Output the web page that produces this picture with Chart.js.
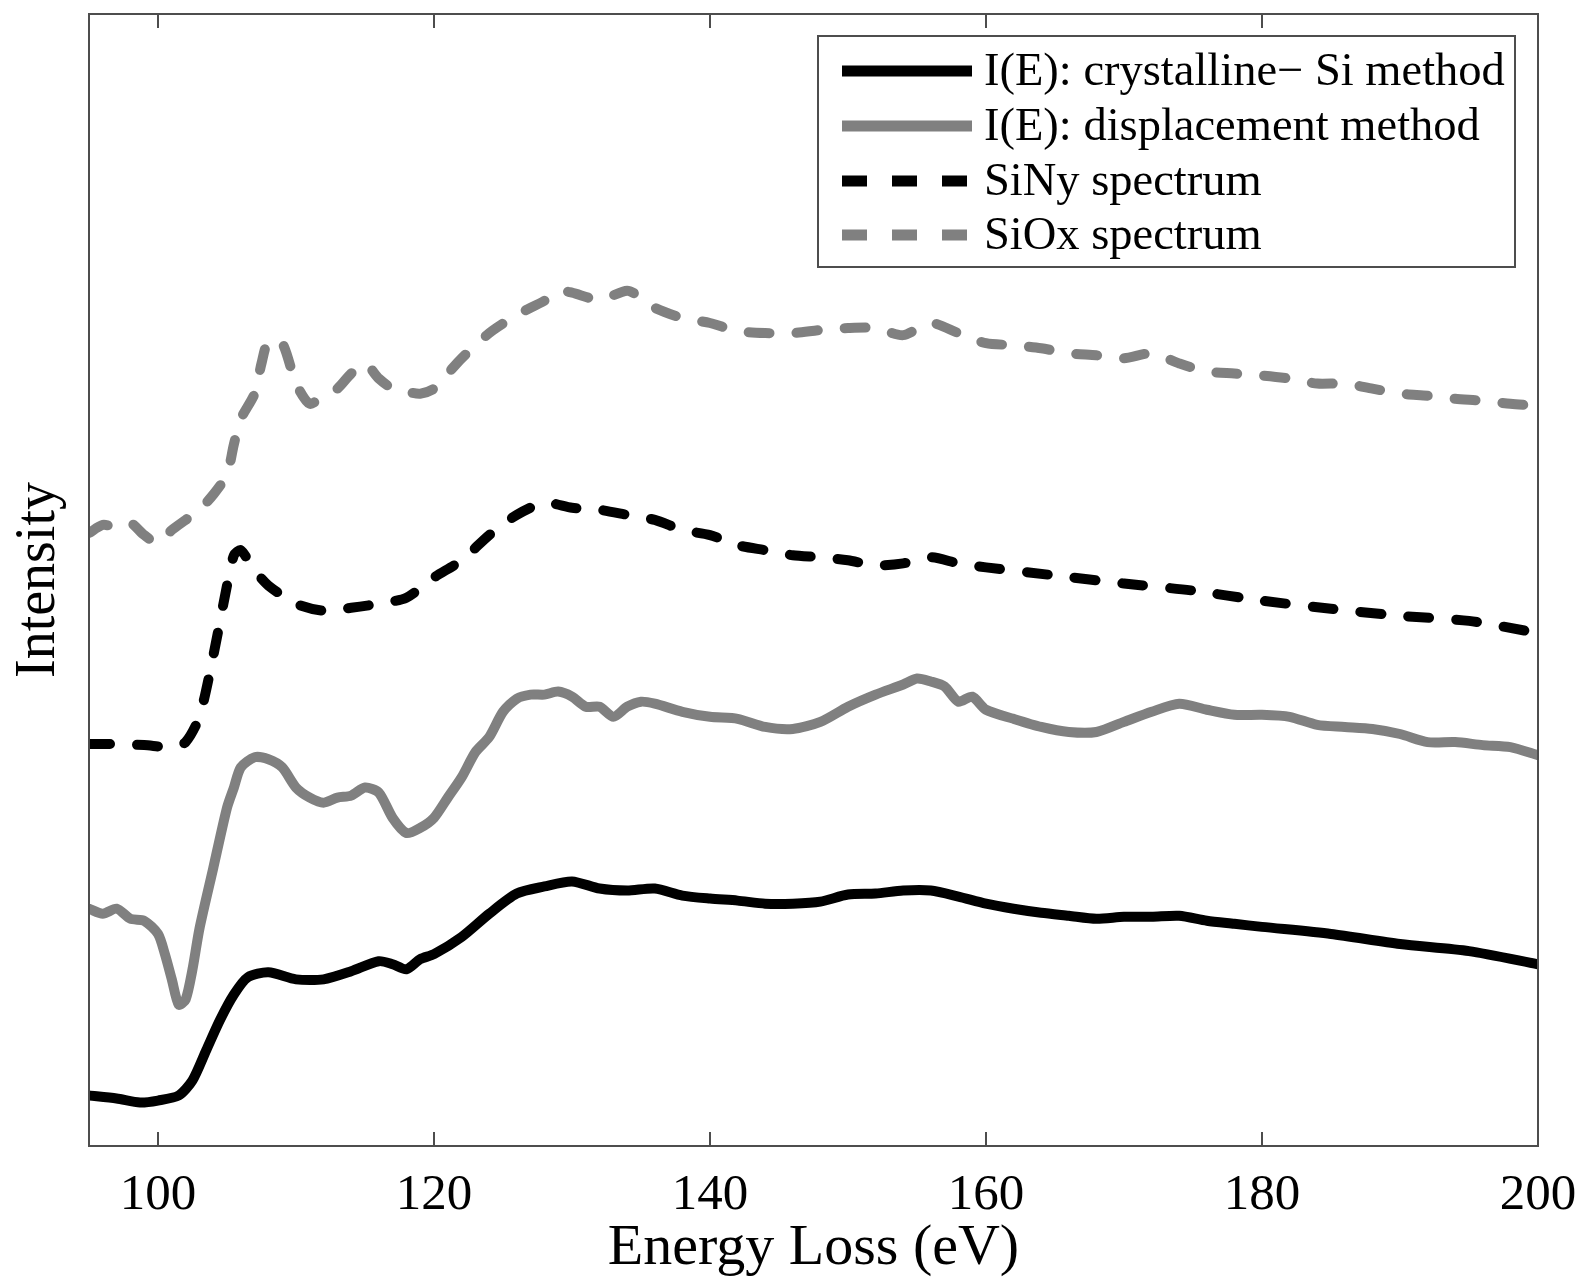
<!DOCTYPE html>
<html>
<head>
<meta charset="utf-8">
<script src="https://cdn.jsdelivr.net/npm/chart.js@4.4.1/dist/chart.umd.min.js"></script>
<style>
  html, body { margin: 0; padding: 0; background: #fff; }
  canvas { display: block; }
</style>
</head>
<body>
<canvas id="eels" width="1583" height="1281"></canvas>
<script>
// x axis ticks (eV)
const xTicks = [100, 120, 140, 160, 180, 200];

// I(E): crystalline-Si method
const cSiEnergy = [95, 97, 98.7, 100, 101.5, 102.5, 103.5, 104.5, 105.5, 106.5, 108, 110, 112, 114, 116, 117, 118, 119, 120, 122, 124, 126, 128, 130, 132, 134, 136, 138, 140, 142, 144, 146, 148, 150, 152, 154, 156, 158, 160, 162, 164, 166, 168, 170, 172, 174, 176, 178, 180, 185, 190, 195, 200];
const cSiIntensity = [50, 47, 43, 45, 50, 65, 95, 125, 150, 167, 172, 165, 165, 173, 183, 180, 175, 185, 190, 207, 230, 250, 257, 262, 255, 253, 255, 248, 245, 243, 240, 240, 242, 249, 250, 253, 253, 247, 240, 235, 231, 228, 225, 227, 227, 228, 223, 220, 217, 210, 200, 193, 180];

// I(E): displacement method
const dispEnergy = [95, 96, 97, 98, 99, 100, 100.5, 101, 101.5, 102, 102.5, 103, 104, 105, 105.5, 106, 107, 108, 109, 110, 111, 112, 113, 114, 115, 116, 117, 118, 119, 120, 121, 122, 123, 124, 125, 126, 127, 128, 129, 130, 131, 132, 133, 134, 135, 136, 138, 140, 142, 144, 146, 148, 150, 152, 154, 155, 156, 157, 158, 159, 160, 162, 164, 166, 168, 170, 172, 174, 176, 178, 180, 182, 184, 186, 188, 190, 192, 194, 196, 198, 200];
const dispIntensity = [235, 230, 235, 225, 223, 210, 190, 165, 140, 145, 175, 215, 275, 335, 355, 375, 385, 383, 375, 355, 345, 340, 345, 347, 355, 350, 325, 310, 315, 325, 345, 365, 390, 405, 430, 443, 447, 447, 450, 445, 435, 435, 425, 435, 440, 438, 430, 425, 423, 415, 413, 420, 435, 447, 457, 463, 460, 455, 440, 445, 432, 423, 415, 410, 410, 420, 430, 438, 432, 427, 427, 425, 417, 415, 413, 408, 400, 400, 397, 395, 387];

// SiNy spectrum
const siNyEnergy = [95, 97, 99, 101, 102, 103, 104, 105, 105.5, 106, 107, 108, 110, 112, 114, 116, 118, 120, 122, 124, 126, 128, 130, 132, 134, 136, 138, 140, 142, 144, 146, 148, 150, 152, 154, 156, 158, 160, 165, 170, 175, 180, 185, 190, 195, 200];
const siNyIntensity = [398, 398, 397, 395, 400, 425, 485, 555, 585, 590, 570, 555, 537, 530, 533, 537, 543, 563, 580, 605, 625, 637, 632, 630, 625, 620, 610, 605, 595, 590, 585, 583, 580, 575, 577, 583, 577, 573, 565, 557, 550, 540, 532, 525, 520, 508];

// SiOx spectrum
const siOxEnergy = [95, 96, 97, 98, 99, 100, 101, 102, 103, 104, 105, 105.5, 106, 107, 107.5, 108, 109, 110, 111, 112, 113, 114, 115, 116, 117, 118, 119, 120, 121, 122, 124, 126, 128, 129, 130, 132, 134, 135, 136, 138, 140, 142, 144, 146, 148, 150, 152, 154, 156, 158, 160, 162, 164, 166, 168, 170, 172, 174, 176, 178, 180, 182, 184, 186, 188, 190, 192, 194, 196, 198, 200];
const siOxIntensity = [607, 615, 613, 617, 605, 597, 610, 620, 630, 645, 665, 695, 720, 745, 775, 797, 795, 755, 735, 743, 750, 765, 775, 760, 750, 747, 745, 750, 765, 780, 805, 823, 837, 847, 845, 838, 847, 840, 830, 820, 815, 807, 805, 805, 808, 810, 810, 803, 815, 805, 795, 793, 790, 785, 783, 780, 785, 775, 767, 765, 763, 760, 755, 755, 750, 745, 743, 740, 738, 735, 733];

const seriesNames = ['I(E): crystalline\u2212 Si method', 'I(E): displacement method', 'SiNy spectrum', 'SiOx spectrum'];

const toPoints = (xs, ys) => xs.map((e, i) => ({ x: e, y: ys[i] }));

const serif = '"Liberation Serif", "DejaVu Serif", serif';
const GRAY = '#808080';

function lineSet(label, xs, ys, color, dashed) {
  return {
    label: label,
    data: toPoints(xs, ys),
    borderColor: color,
    borderWidth: 10,
    borderDash: dashed ? [21, 27] : [],
    borderCapStyle: 'round',
    borderJoinStyle: 'round',
    pointRadius: 0,
    tension: 0.25,
    fill: false,
    dashed: dashed
  };
}

// box, inward ticks and boxed legend, drawn on top of the plot
const frameAndLegend = {
  id: 'frameAndLegend',
  afterDraw(chart) {
    const { ctx, chartArea: a, scales: { x } } = chart;
    ctx.save();
    ctx.strokeStyle = '#4d4d4d';
    ctx.lineWidth = 2;
    ctx.setLineDash([]);
    ctx.strokeRect(a.left, a.top, a.right - a.left, a.bottom - a.top);
    xTicks.forEach(v => {
      const px = x.getPixelForValue(v);
      ctx.beginPath();
      ctx.moveTo(px, a.bottom); ctx.lineTo(px, a.bottom - 14);
      ctx.moveTo(px, a.top); ctx.lineTo(px, a.top + 14);
      ctx.stroke();
    });

    // legend
    const bx = a.right - 720, by = a.top + 22, bw = 697, bh = 231;
    ctx.fillStyle = '#fff';
    ctx.fillRect(bx, by, bw, bh);
    ctx.strokeRect(bx, by, bw, bh);
    const rows = [57, 112, 167, 221];
    chart.data.datasets.forEach((ds, i) => {
      const y = a.top + rows[i];
      ctx.strokeStyle = ds.borderColor;
      ctx.lineWidth = 11;
      ctx.lineCap = 'butt';
      ctx.setLineDash(ds.dashed ? [25, 25] : []);
      ctx.beginPath();
      ctx.moveTo(bx + 24, y);
      ctx.lineTo(bx + 154, y);
      ctx.stroke();
      ctx.setLineDash([]);
      ctx.fillStyle = '#000';
      ctx.font = '46.5px ' + serif;
      ctx.textBaseline = 'middle';
      ctx.textAlign = 'left';
      ctx.fillText(ds.label, bx + 166, y + 2);
    });
    ctx.restore();
  }
};

new Chart(document.getElementById('eels'), {
  type: 'line',
  data: {
    datasets: [
      lineSet(seriesNames[0], cSiEnergy, cSiIntensity, '#000', false),
      lineSet(seriesNames[1], dispEnergy, dispIntensity, GRAY, false),
      lineSet(seriesNames[2], siNyEnergy, siNyIntensity, '#000', true),
      lineSet(seriesNames[3], siOxEnergy, siOxIntensity, GRAY, true)
    ]
  },
  options: {
    responsive: false,
    animation: false,
    layout: { padding: { top: 14, right: 45, left: 0, bottom: 0 } },
    plugins: {
      legend: { display: false },
      tooltip: { enabled: false }
    },
    scales: {
      x: {
        type: 'linear',
        min: 95,
        max: 200,
        afterBuildTicks: s => { s.ticks = xTicks.map(v => ({ value: v })); },
        afterFit: s => { s.height = 135; s.paddingLeft = 0; s.paddingRight = 0; },
        grid: { display: false, drawTicks: false },
        border: { display: false },
        ticks: {
          color: '#000',
          padding: 19,
          maxRotation: 0,
          font: { family: serif, size: 51 }
        },
        title: {
          display: true,
          text: 'Energy Loss (eV)',
          color: '#000',
          font: { family: serif, size: 58, lineHeight: 1.05 },
          padding: { top: 0, bottom: 2 }
        }
      },
      y: {
        type: 'linear',
        min: 0,
        max: 1121,
        afterFit: s => { s.width = 89; },
        grid: { display: false, drawTicks: false },
        border: { display: false },
        ticks: { display: false },
        title: {
          display: true,
          text: 'Intensity',
          color: '#000',
          font: { family: serif, size: 56 },
          padding: { top: 6, bottom: 0 }
        }
      }
    }
  },
  plugins: [frameAndLegend]
});
</script>
</body>
</html>
